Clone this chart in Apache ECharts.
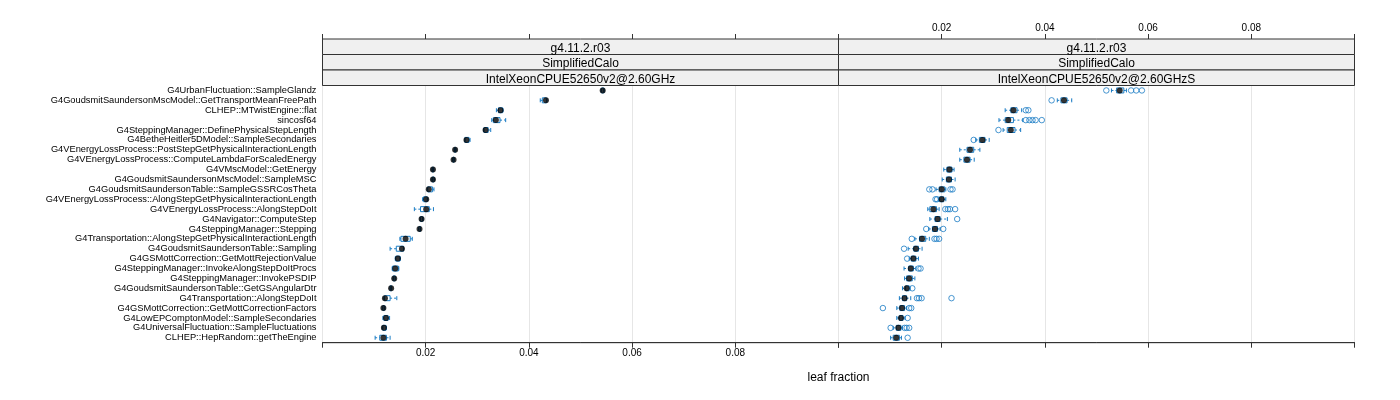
<!DOCTYPE html>
<html>
<head>
<meta charset="utf-8">
<script src="https://cdn.jsdelivr.net/npm/echarts@6/dist/echarts.min.js"></script>
<style>
html,body{margin:0;padding:0;background:#fff;}
#chart{width:1400px;height:400px;}
</style>
</head>
<body>
<div id="chart"></div>
<script>
const categories = [
  "G4UrbanFluctuation::SampleGlandz",
  "G4GoudsmitSaundersonMscModel::GetTransportMeanFreePath",
  "CLHEP::MTwistEngine::flat",
  "sincosf64",
  "G4SteppingManager::DefinePhysicalStepLength",
  "G4BetheHeitler5DModel::SampleSecondaries",
  "G4VEnergyLossProcess::PostStepGetPhysicalInteractionLength",
  "G4VEnergyLossProcess::ComputeLambdaForScaledEnergy",
  "G4VMscModel::GetEnergy",
  "G4GoudsmitSaundersonMscModel::SampleMSC",
  "G4GoudsmitSaundersonTable::SampleGSSRCosTheta",
  "G4VEnergyLossProcess::AlongStepGetPhysicalInteractionLength",
  "G4VEnergyLossProcess::AlongStepDoIt",
  "G4Navigator::ComputeStep",
  "G4SteppingManager::Stepping",
  "G4Transportation::AlongStepGetPhysicalInteractionLength",
  "G4GoudsmitSaundersonTable::Sampling",
  "G4GSMottCorrection::GetMottRejectionValue",
  "G4SteppingManager::InvokeAlongStepDoItProcs",
  "G4SteppingManager::InvokePSDIP",
  "G4GoudsmitSaundersonTable::GetGSAngularDtr",
  "G4Transportation::AlongStepDoIt",
  "G4GSMottCorrection::GetMottCorrectionFactors",
  "G4LowEPComptonModel::SampleSecondaries",
  "G4UniversalFluctuation::SampleFluctuations",
  "CLHEP::HepRandom::getTheEngine"
];

const stripTop = "g4.11.2.r03";
const stripMid = "SimplifiedCalo";
const stripLeft = "IntelXeonCPUE52650v2@2.60GHz";
const stripRight = "IntelXeonCPUE52650v2@2.60GHzS";
const xTicks = [0.02, 0.04, 0.06, 0.08];
const xLabel = "leaf fraction";

// Left panel (IntelXeonCPUE52650v2@2.60GHz)
const leftMed = [0.0543,0.0433,0.0345,0.0336,0.0316,0.0279,0.0257,0.0254,0.0214,0.0214,0.0206,0.0201,0.0201,0.0192,0.0188,0.0161,0.0154,0.0146,0.0141,0.0139,0.0133,0.0121,0.0118,0.0123,0.0119,0.0118];
const leftQ1  = [0.0541,0.0426,0.0341,0.0331,0.0313,0.0276,0.0256,0.0253,0.0213,0.0213,0.0204,0.0196,0.0190,0.0190,0.0187,0.0152,0.0143,0.0142,0.0136,0.0137,0.0131,0.0120,0.0117,0.0119,0.0117,0.0111];
const leftQ3  = [0.0545,0.0434,0.0349,0.0344,0.0321,0.0284,0.0258,0.0255,0.0215,0.0216,0.0213,0.0203,0.0207,0.0194,0.0190,0.0170,0.0157,0.0150,0.0147,0.0141,0.0134,0.0131,0.0120,0.0127,0.0123,0.0124];
const leftLo  = [0.0540,0.0422,0.0337,0.0328,0.0312,0.0276,0.0255,0.0252,0.0212,0.0212,0.0203,0.0194,0.0178,0.0189,0.0186,0.0150,0.0131,0.0141,0.0135,0.0137,0.0131,0.0119,0.0116,0.0117,0.0116,0.0102];
const leftHi  = [0.0546,0.0435,0.0350,0.0355,0.0326,0.0286,0.0259,0.0256,0.0216,0.0217,0.0216,0.0204,0.0215,0.0195,0.0190,0.0174,0.0157,0.0151,0.0148,0.0141,0.0134,0.0144,0.0121,0.0130,0.0124,0.0131];

// Right panel (IntelXeonCPUE52650v2@2.60GHzS)
const rightMed = [0.0545,0.0437,0.0339,0.0329,0.0334,0.0279,0.0255,0.0249,0.0215,0.0214,0.0200,0.0200,0.0184,0.0192,0.0187,0.0162,0.0150,0.0145,0.0140,0.0137,0.0132,0.0128,0.0123,0.0121,0.0116,0.0112];
const rightQ1  = [0.0539,0.0431,0.0334,0.0323,0.0327,0.0273,0.0249,0.0243,0.0210,0.0209,0.0195,0.0196,0.0177,0.0187,0.0182,0.0157,0.0146,0.0141,0.0136,0.0132,0.0130,0.0124,0.0119,0.0118,0.0112,0.0106];
const rightQ3  = [0.0553,0.0443,0.0346,0.0339,0.0342,0.0284,0.0262,0.0255,0.0220,0.0219,0.0206,0.0204,0.0190,0.0197,0.0192,0.0169,0.0155,0.0150,0.0145,0.0143,0.0137,0.0132,0.0128,0.0125,0.0121,0.0118];
const rightLo  = [0.0529,0.0424,0.0323,0.0311,0.0319,0.0266,0.0235,0.0235,0.0204,0.0201,0.0189,0.0194,0.0173,0.0177,0.0175,0.0148,0.0135,0.0137,0.0127,0.0128,0.0124,0.0118,0.0113,0.0113,0.0106,0.0101];
const rightHi  = [0.0558,0.0452,0.0355,0.0357,0.0353,0.0292,0.0274,0.0263,0.0224,0.0226,0.0208,0.0208,0.0195,0.0211,0.0197,0.0176,0.0162,0.0155,0.0150,0.0148,0.0139,0.0140,0.0132,0.0129,0.0124,0.0122];
const rightOutliers = [
  [0.0519,0.0567,0.0577,0.0588],
  [0.0413],
  [0.0363,0.0368],
  [0.0363,0.0370,0.0376,0.0382,0.0394],
  [0.0310],
  [0.0262],
  [],
  [],
  [],
  [],
  [0.0176,0.0182,0.0217,0.0221],
  [0.0188,0.0191],
  [0.0207,0.0212,0.0216,0.0226],
  [0.0230],
  [0.0170,0.0203],
  [0.0142,0.0186,0.0190,0.0195],
  [0.0127],
  [0.0133],
  [0.0155,0.0159],
  [],
  [0.0143],
  [0.0152,0.0156,0.0161,0.0219],
  [0.0086,0.0137,0.0141],
  [0.0134],
  [0.0101,0.0128,0.0132,0.0137],
  [0.0134]
];

const BLUE = '#1a7cc4';
const FRAME = '#333';
const FONT = '"Liberation Sans", Arial, sans-serif';

const PL = 322.5, PR = 838.5, PW = 516, PTOP = 85.5, PH = 257.2, STOP = 39;
const SH = (PTOP - STOP) / 3;

function boxData(lo, q1, med, q3, hi) {
  return categories.map((c, i) => [i, lo[i], q1[i], med[i], q3[i], hi[i]]);
}
function renderBox(params, api) {
  const cat = api.value(0);
  const lo = api.coord([api.value(1), cat]);
  const q1 = api.coord([api.value(2), cat]);
  const q3 = api.coord([api.value(4), cat]);
  const hi = api.coord([api.value(5), cat]);
  const y = lo[1];
  const bh = 5, cap = 4;
  const dash = {stroke: BLUE, lineWidth: 1, lineDash: [2, 2]};
  const solid = {stroke: BLUE, lineWidth: 1};
  return {type: 'group', children: [
    {type: 'line', shape: {x1: lo[0], y1: y, x2: q1[0], y2: y}, style: dash},
    {type: 'line', shape: {x1: q3[0], y1: y, x2: hi[0], y2: y}, style: dash},
    {type: 'line', shape: {x1: lo[0], y1: y - cap / 2, x2: lo[0], y2: y + cap / 2}, style: solid},
    {type: 'line', shape: {x1: hi[0], y1: y - cap / 2, x2: hi[0], y2: y + cap / 2}, style: solid},
    {type: 'rect', shape: {x: q1[0], y: y - bh / 2, width: Math.max(q3[0] - q1[0], 0.5), height: bh}, style: {stroke: BLUE, fill: 'rgba(0,0,0,0)', lineWidth: 1}}
  ]};
}
function medData(med) { return med.map((v, i) => [v, i]); }
function outData(outs) {
  const d = [];
  outs.forEach((arr, i) => arr.forEach(v => d.push([v, i])));
  return d;
}

function xAxisDef(gridIndex, position, showLabels, split) {
  return {
    type: 'value', gridIndex, position, min: 0, max: 0.1, interval: 0.02,
    axisLine: {show: true, onZero: false, lineStyle: {color: FRAME, width: 1}},
    axisTick: {show: true, inside: false, length: 5, lineStyle: {color: FRAME}},
    axisLabel: {
      show: showLabels, color: '#000', fontSize: 10, fontFamily: FONT, margin: 6,
      formatter: v => (xTicks.some(t => Math.abs(t - v) < 1e-9) ? v.toFixed(2) : '')
    },
    splitLine: {show: split, lineStyle: {color: '#e6e6e6', width: 1}}
  };
}

const graphics = [];
[[PL, stripLeft], [PR, stripRight]].forEach(([x0, lab]) => {
  [stripTop, stripMid, lab].forEach((t, k) => {
    graphics.push({type: 'rect', shape: {x: x0, y: STOP + k * SH, width: PW, height: SH},
      style: {fill: '#f0f0f0', stroke: FRAME, lineWidth: 1}, z: 10});
    graphics.push({type: 'text', x: x0 + PW / 2, y: STOP + k * SH + SH / 2 + 1.5, z: 11,
      style: {text: t, font: '12px ' + FONT, fill: '#000', textAlign: 'center', textVerticalAlign: 'middle', align: 'center', verticalAlign: 'middle'}});
  });
});
graphics.push({type: 'text', x: PR, y: 378, z: 11,
  style: {text: xLabel, font: '12px ' + FONT, fill: '#000', textAlign: 'center', textVerticalAlign: 'middle', align: 'center', verticalAlign: 'middle'}});

const option = {
  animation: false,
  backgroundColor: '#fff',
  textStyle: {fontFamily: FONT},
  grid: [
    {left: PL, top: PTOP, width: PW, height: PH, show: true, borderColor: FRAME, borderWidth: 1, backgroundColor: 'transparent'},
    {left: PR, top: PTOP, width: PW, height: PH, show: true, borderColor: FRAME, borderWidth: 1, backgroundColor: 'transparent'},
    {left: PL, top: STOP, width: PW, height: PTOP - STOP},
    {left: PR, top: STOP, width: PW, height: PTOP - STOP}
  ],
  xAxis: [
    xAxisDef(0, 'bottom', true, true),
    xAxisDef(1, 'bottom', false, true),
    xAxisDef(2, 'top', false, false),
    xAxisDef(3, 'top', true, false)
  ],
  yAxis: [
    {type: 'category', gridIndex: 0, data: categories, inverse: true,
      axisLine: {show: false}, axisTick: {show: false},
      axisLabel: {show: true, color: '#000', fontSize: 9.3, fontFamily: FONT, margin: 6, interval: 0}},
    {type: 'category', gridIndex: 1, data: categories, inverse: true,
      axisLine: {show: false}, axisTick: {show: false}, axisLabel: {show: false}},
    {type: 'value', gridIndex: 2, show: false},
    {type: 'value', gridIndex: 3, show: false}
  ],
  graphic: graphics,
  series: [
    {type: 'custom', xAxisIndex: 0, yAxisIndex: 0, renderItem: renderBox,
      data: boxData(leftLo, leftQ1, leftMed, leftQ3, leftHi), encode: {x: [1, 2, 3, 4, 5], y: 0}, z: 3},
    {type: 'custom', xAxisIndex: 1, yAxisIndex: 1, renderItem: renderBox,
      data: boxData(rightLo, rightQ1, rightMed, rightQ3, rightHi), encode: {x: [1, 2, 3, 4, 5], y: 0}, z: 3},
    {type: 'scatter', xAxisIndex: 1, yAxisIndex: 1, data: outData(rightOutliers), symbol: 'circle', symbolSize: 5.5,
      itemStyle: {color: 'rgba(0,0,0,0)', borderColor: BLUE, borderWidth: 1}, z: 4},
    {type: 'scatter', xAxisIndex: 0, yAxisIndex: 0, data: medData(leftMed), symbol: 'circle', symbolSize: 6,
      itemStyle: {color: '#000'}, z: 5},
    {type: 'scatter', xAxisIndex: 1, yAxisIndex: 1, data: medData(rightMed), symbol: 'circle', symbolSize: 6,
      itemStyle: {color: '#000'}, z: 5}
  ]
};

const chart = echarts.init(document.getElementById('chart'), null, {renderer: 'canvas'});
chart.setOption(option);
</script>
</body>
</html>
